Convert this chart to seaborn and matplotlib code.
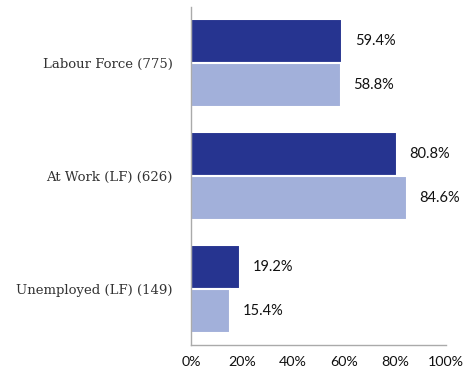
import matplotlib
matplotlib.use("Agg")
import matplotlib.pyplot as plt
import seaborn as sns
import pandas as pd

categories = ["Labour Force (775)", "At Work (LF) (626)", "Unemployed (LF) (149)"]
series_names = ["Group 1", "Group 2"]
series_1 = [59.4, 80.8, 19.2]
series_2 = [58.8, 84.6, 15.4]
x_ticks = [0, 20, 40, 60, 80, 100]

rows = []
for c, a, b in zip(categories, series_1, series_2):
    rows.append({"cat": c, "series": series_names[0], "value": a})
    rows.append({"cat": c, "series": series_names[1], "value": b})
df = pd.DataFrame(rows)

sns.set_theme(style="white")
fig = plt.figure(figsize=(4.63, 3.73), dpi=100)
ax = fig.add_axes([191 / 463, 1 - 345 / 373, 255 / 463, 338 / 373])

palette = {series_names[0]: "#263490", series_names[1]: "#a2b0da"}
sns.barplot(data=df, y="cat", x="value", hue="series", orient="h",
            palette=palette, width=0.78, edgecolor="white", linewidth=1.5,
            saturation=1, ax=ax, legend=False, errorbar=None)

for cont in ax.containers:
    ax.bar_label(cont, labels=[f"{v:.1f}%" for v in cont.datavalues],
                 padding=9, fontsize=10.5, family="Lato", color="#111111")

ax.set_xlim(0, 100)
ax.set_ylim(2.5, -0.5)
ax.set_xticks(x_ticks)
ax.set_xticklabels([f"{t}%" for t in x_ticks], family="Lato", fontsize=10.3, color="#111111")
ax.tick_params(axis="x", length=0, pad=8)
ax.tick_params(axis="y", length=0, pad=13)
for lab in ax.get_yticklabels():
    lab.set_family("DejaVu Serif")
    lab.set_fontsize(9.5)
    lab.set_color("#333333")
ax.set_xlabel("")
ax.set_ylabel("")
for s in ["top", "right"]:
    ax.spines[s].set_visible(False)
for s in ["left", "bottom"]:
    ax.spines[s].set_color("#aaaaaa")
    ax.spines[s].set_linewidth(1)

fig.savefig("out.png", dpi=100)
